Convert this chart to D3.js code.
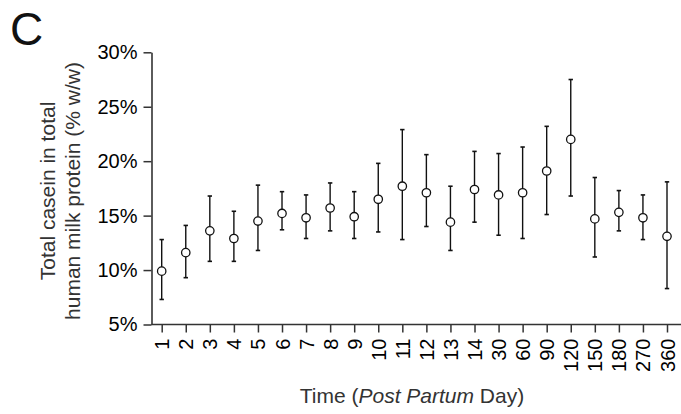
<!DOCTYPE html>
<html>
<head>
<meta charset="utf-8">
<script src="https://cdn.jsdelivr.net/npm/d3@7"></script>
<style>
  body { margin: 0; background: #fff; }
  svg { display: block; font-family: "Liberation Sans", Arial, sans-serif; }
</style>
</head>
<body>
<svg id="chart" width="681" height="414"></svg>
<script>
// post partum days
const days = ["1","2","3","4","5","6","7","8","9","10","11","12","13","14","30","60","90","120","150","180","270","360"];
// mean casein share (%)
const means = [9.9, 11.6, 13.6, 12.9, 14.5, 15.2, 14.8, 15.7, 14.9, 16.5, 17.7, 17.1, 14.4, 17.4, 16.9, 17.1, 19.1, 22.0, 14.7, 15.3, 14.8, 13.1];
// error bar ends
const upper = [12.8, 14.1, 16.8, 15.4, 17.8, 17.2, 16.9, 18.0, 17.2, 19.8, 22.9, 20.6, 17.7, 20.9, 20.7, 21.3, 23.2, 27.5, 18.5, 17.3, 16.9, 18.1];
const lower = [7.3, 9.3, 10.8, 10.8, 11.8, 13.7, 12.9, 13.6, 12.9, 13.5, 12.8, 14.0, 11.8, 14.4, 13.2, 12.9, 15.1, 16.8, 11.2, 13.6, 12.8, 8.3];
const yTicks = [5, 10, 15, 20, 25, 30];

const data = days.map((d, i) => ({day: d, m: means[i], hi: upper[i], lo: lower[i]}));

const svg = d3.select("#chart");

const x = d3.scalePoint().domain(days).range([161.7, 667]);
const y = d3.scaleLinear().domain([5, 30]).range([324.5, 52.3]);

// y axis
const yAxis = d3.axisLeft(y).tickValues(yTicks).tickFormat(d => d + "%").tickSize(8).tickSizeOuter(0).tickPadding(6);
const gy = svg.append("g").attr("transform", "translate(151.5,0)").call(yAxis);
gy.select(".domain").attr("stroke", "#333").attr("stroke-width", 1.6);
gy.selectAll(".tick line").attr("stroke", "#333").attr("stroke-width", 1.5);
gy.selectAll(".tick text").attr("font-size", 20).attr("fill", "#000").attr("font-family", "Liberation Sans, Arial, sans-serif");

// x axis
const xAxis = d3.axisBottom(x).tickSize(8).tickSizeOuter(0);
const gx = svg.append("g").attr("transform", "translate(0,324.5)").call(xAxis);
gx.select(".domain").remove();
gx.append("line").attr("x1", 151.5).attr("x2", 681).attr("y1", 0).attr("y2", 0)
  .attr("stroke", "#333").attr("stroke-width", 1.6);
gx.selectAll(".tick line").attr("stroke", "#333").attr("stroke-width", 1.5);
gx.selectAll(".tick text")
  .attr("font-size", 20).attr("fill", "#000").attr("font-family", "Liberation Sans, Arial, sans-serif")
  .attr("text-anchor", "end")
  .attr("transform", "rotate(-90)")
  .attr("x", -14).attr("y", 0).attr("dy", "0.35em");

// error bars
const bars = svg.append("g").selectAll("g").data(data).join("g");
bars.append("line")
  .attr("x1", d => x(d.day)).attr("x2", d => x(d.day))
  .attr("y1", d => y(d.hi)).attr("y2", d => y(d.lo))
  .attr("stroke", "#111").attr("stroke-width", 1.4);
bars.append("line")
  .attr("x1", d => x(d.day) - 2.2).attr("x2", d => x(d.day) + 2.2)
  .attr("y1", d => y(d.hi)).attr("y2", d => y(d.hi))
  .attr("stroke", "#111").attr("stroke-width", 1.6);
bars.append("line")
  .attr("x1", d => x(d.day) - 2.2).attr("x2", d => x(d.day) + 2.2)
  .attr("y1", d => y(d.lo)).attr("y2", d => y(d.lo))
  .attr("stroke", "#111").attr("stroke-width", 1.6);
bars.append("circle")
  .attr("cx", d => x(d.day)).attr("cy", d => y(d.m)).attr("r", 4.2)
  .attr("fill", "#fff").attr("stroke", "#111").attr("stroke-width", 1.3);

// titles
svg.append("text").attr("x", 10).attr("y", 45).attr("font-size", 46).attr("fill", "#111").text("C");

svg.append("text").attr("x", 412).attr("y", 403).attr("text-anchor", "middle")
  .attr("font-size", 21).attr("fill", "#333")
  .call(t => {
    t.append("tspan").text("Time (");
    t.append("tspan").attr("font-style", "italic").text("Post Partum");
    t.append("tspan").text(" Day)");
  });

const yl = svg.append("text").attr("transform", "translate(55,191) rotate(-90)")
  .attr("text-anchor", "middle").attr("font-size", 21).attr("fill", "#333");
yl.append("tspan").attr("x", 0).attr("y", 0).text("Total casein in total");
yl.append("tspan").attr("x", 0).attr("y", 25).text("human milk protein (% w/w)");
</script>
</body>
</html>
